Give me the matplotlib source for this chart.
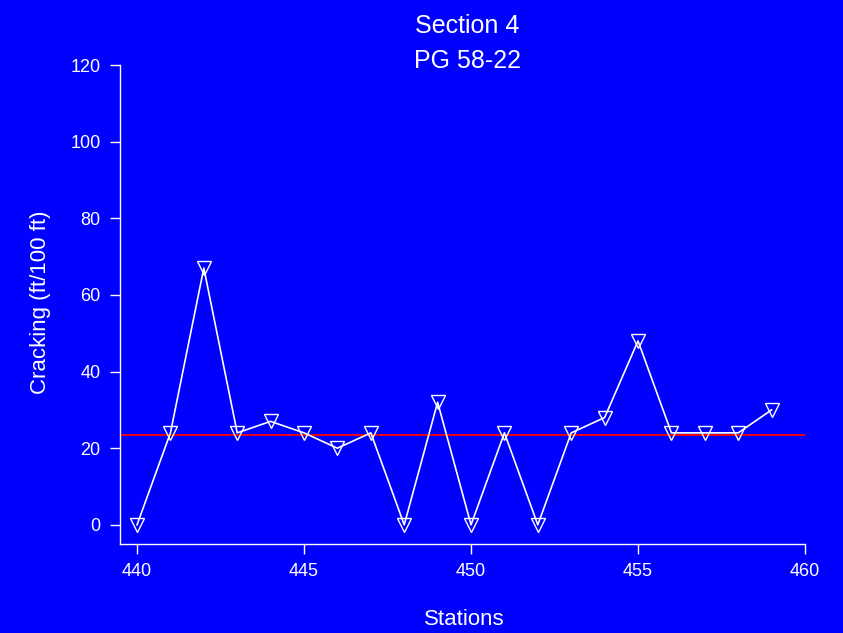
import matplotlib
matplotlib.use("Agg")
import matplotlib.pyplot as plt

stations = [440, 441, 442, 443, 444, 445, 446, 447, 448, 449,
            450, 451, 452, 453, 454, 455, 456, 457, 458, 459]
cracking = [0, 24, 67, 24, 27, 24, 20, 24, 0, 32,
            0, 24, 0, 24, 28, 48, 24, 24, 24, 30]
yticks = [0, 20, 40, 60, 80, 100, 120]
xticks = [440, 445, 450, 455, 460]
mean_val = sum(cracking) / len(cracking)

plt.rcParams['font.family'] = ['Liberation Sans', 'DejaVu Sans']
bg = '#0000FF'
fig = plt.figure(figsize=(8.43, 6.33), dpi=100, facecolor=bg)
ax = fig.add_axes([120/843, (633-544)/633, (805-120)/843, (544-65)/633])
ax.set_facecolor(bg)

ax.axhline(mean_val, color='#FF0000', lw=1.3, zorder=1)
ax.plot(stations, cracking, color='white', lw=1.2, marker='v', ms=9.5,
        mfc='none', mec='white', mew=1.0, zorder=2)

ax.set_xlim(439.49, 460)
ax.set_ylim(-5, 120)
ax.set_xticks(xticks)
ax.set_yticks(yticks)
for s in ['top', 'right']:
    ax.spines[s].set_visible(False)
for s in ['left', 'bottom']:
    ax.spines[s].set_color('white')
    ax.spines[s].set_linewidth(1.0)
ax.tick_params(colors='white', length=7, width=1.0, labelsize=13, direction='out', pad=7)

fig.text(467/843, 1 - 33/633, 'Section 4', color='white', fontsize=18, ha='center', va='baseline')
fig.text(467/843, 1 - 68/633, 'PG 58-22', color='white', fontsize=18, ha='center', va='baseline')
fig.text(41/843, 1 - 302/633, 'Cracking (ft/100 ft)', color='white', fontsize=16,
         ha='center', va='center', rotation=90)
fig.text(464/843, 1 - 625/633, 'Stations', color='white', fontsize=16, ha='center', va='baseline')

fig.savefig('out.png', dpi=100, facecolor=bg)
